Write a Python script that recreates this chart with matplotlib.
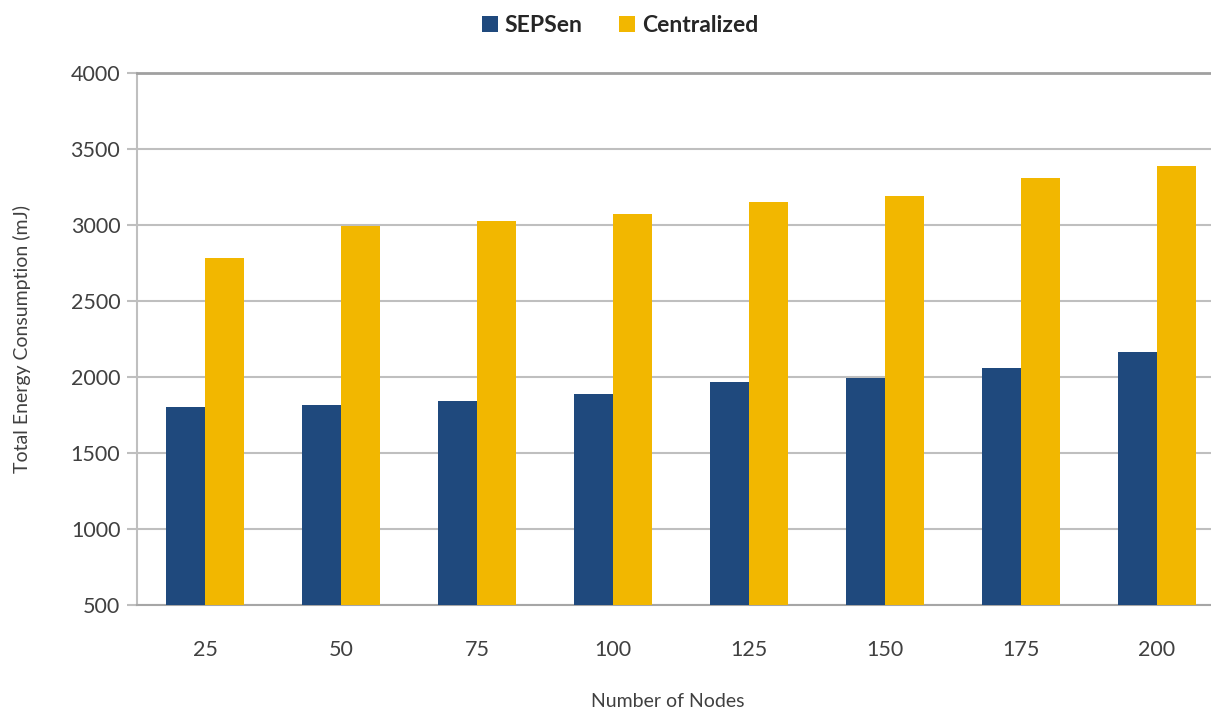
import matplotlib.pyplot as plt
import numpy as np

plt.rcParams['font.family'] = ['Lato', 'DejaVu Sans']

nodes = ['25', '50', '75', '100', '125', '150', '175', '200']
sepsen = [1800, 1815, 1840, 1890, 1965, 1995, 2060, 2165]
centralized = [2780, 2995, 3025, 3075, 3150, 3190, 3310, 3390]

blue = '#1F497D'
gold = '#F2B700'
grid = '#BFBFBF'

fig = plt.figure(figsize=(12.11, 7.12), dpi=100)
ax = fig.add_axes([137/1211, 1 - 605/712, 1088/1211, 532/712])

x = np.arange(len(nodes))
w = 0.287
ax.bar(x - w/2, sepsen, w, color=blue, label='SEPSen', zorder=3)
ax.bar(x + w/2, centralized, w, color=gold, label='Centralized', zorder=3)

ax.set_xlim(-0.5, len(nodes) - 0.5)
ax.set_ylim(500, 4000)
ax.set_yticks(range(500, 4001, 500))
ax.set_xticks(x)
ax.set_xticklabels(nodes)
ax.yaxis.grid(True, color=grid, linewidth=1.5, zorder=0)

ax.spines['right'].set_visible(False)
ax.spines['top'].set_color('#A0A0A0')
ax.spines['top'].set_linewidth(2)
ax.spines['left'].set_color(grid)
ax.spines['left'].set_linewidth(1.5)
ax.spines['bottom'].set_color('#A6A6A6')
ax.spines['bottom'].set_linewidth(1.5)
ax.tick_params(axis='y', length=7, width=1.5, color=grid, labelsize=15.5, labelcolor='#404040', pad=5)
ax.tick_params(axis='x', length=0, labelsize=15.5, labelcolor='#404040', pad=25)

ax.set_ylabel('Total Energy Consumption (mJ)', fontsize=14, color='#404040')
ax.yaxis.set_label_coords(-0.097, 0.5)
ax.set_xlabel('Number of Nodes', fontsize=14, color='#404040')
ax.xaxis.set_label_coords(0.488, -0.165)

leg = fig.legend(loc='upper center', bbox_to_anchor=(0.512, 1.008), ncol=2, frameon=False,
                 prop={'weight': 'bold', 'size': 16.5}, handlelength=0.7, handleheight=0.7,
                 columnspacing=1.6, handletextpad=0.3)
for t in leg.get_texts():
    t.set_color('#262626')

fig.savefig('out.png', dpi=100)
